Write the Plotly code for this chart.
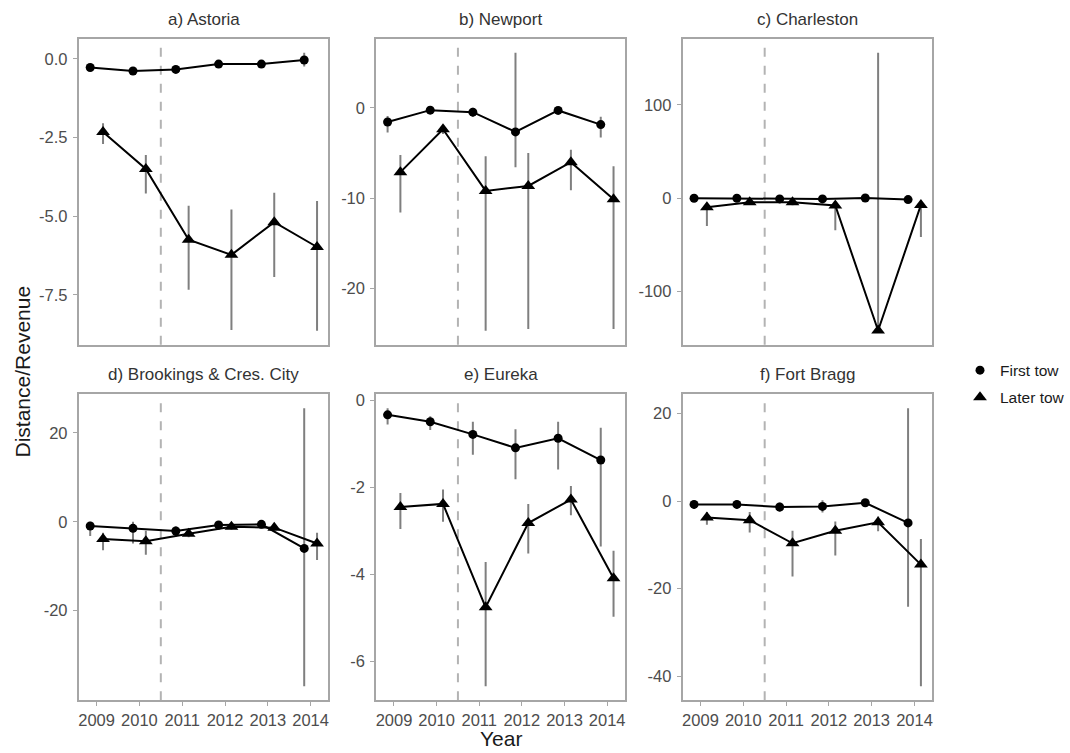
import plotly.graph_objects as go

# ---- data ---------------------------------------------------------------
years = [2009, 2010, 2011, 2012, 2013, 2014]
year_ticks = ["2009", "2010", "2011", "2012", "2013", "2014"]
policy_break = 2010.5

panel_titles = ["a) Astoria", "b) Newport", "c) Charleston",
                "d) Brookings & Cres. City", "e) Eureka", "f) Fort Bragg"]

# Astoria
astoria_first = [-0.28, -0.39, -0.34, -0.17, -0.17, -0.04]
astoria_first_lo = [-0.36, -0.47, -0.42, -0.24, -0.24, -0.25]
astoria_first_hi = [-0.20, -0.31, -0.26, -0.10, -0.10, 0.19]
astoria_later = [-2.33, -3.50, -5.75, -6.23, -5.19, -5.98]
astoria_later_lo = [-2.71, -4.28, -7.34, -8.62, -6.93, -8.64]
astoria_later_hi = [-2.05, -3.06, -4.67, -4.79, -4.26, -4.52]

# Newport
newport_first = [-1.57, -0.26, -0.48, -2.67, -0.29, -1.86]
newport_first_lo = [-2.74, -0.60, -1.00, -6.58, -0.60, -3.29]
newport_first_hi = [-0.91, 0.05, 0.00, 6.10, 0.00, -0.99]
newport_later = [-7.13, -2.38, -9.21, -8.66, -6.03, -10.12]
newport_later_lo = [-11.59, -2.90, -24.70, -24.50, -9.13, -24.50]
newport_later_hi = [-5.23, -1.90, -5.37, -5.01, -4.64, -6.47]

# Charleston
charleston_first = [0.0, 0.0, -0.7, -0.7, 0.3, -1.4]
charleston_first_lo = [-2.0, -2.0, -3.0, -3.0, -1.5, -3.5]
charleston_first_hi = [2.0, 2.0, 1.5, 1.5, 2.0, 1.0]
charleston_later = [-9.6, -4.3, -4.3, -7.8, -141.8, -7.1]
charleston_later_lo = [-29.8, -7.0, -7.5, -34.4, -142.0, -41.5]
charleston_later_hi = [-5.0, -2.0, -2.0, -3.0, 156.0, -3.0]

# Brookings & Crescent City
brookings_first = [-0.96, -1.48, -2.07, -0.74, -0.59, -6.0]
brookings_first_lo = [-3.2, -4.9, -3.3, -1.8, -1.4, -37.0]
brookings_first_hi = [0.0, 0.0, -1.0, 0.0, 0.0, 25.5]
brookings_later = [-3.9, -4.4, -2.7, -1.1, -1.33, -4.9]
brookings_later_lo = [-6.4, -7.4, -3.5, -1.8, -2.0, -8.6]
brookings_later_hi = [-2.5, -2.0, -1.9, -0.4, -0.7, -2.5]

# Eureka
eureka_first = [-0.33, -0.49, -0.78, -1.09, -0.87, -1.37]
eureka_first_lo = [-0.55, -0.68, -1.25, -1.81, -1.59, -3.36]
eureka_first_hi = [-0.18, -0.36, -0.49, -0.66, -0.49, -0.63]
eureka_later = [-2.45, -2.38, -4.76, -2.82, -2.28, -4.09]
eureka_later_lo = [-2.96, -2.79, -6.58, -3.52, -2.64, -4.98]
eureka_later_hi = [-2.13, -2.05, -3.72, -2.38, -1.97, -3.46]

# Fort Bragg
fortbragg_first = [-0.75, -0.75, -1.35, -1.2, -0.38, -4.97]
fortbragg_first_lo = [-1.8, -1.8, -2.5, -2.6, -1.2, -24.1]
fortbragg_first_hi = [0.2, 0.2, -0.3, 0.2, 0.5, 21.2]
fortbragg_later = [-3.76, -4.36, -9.63, -6.77, -4.82, -14.5]
fortbragg_later_lo = [-5.4, -7.15, -17.2, -12.4, -6.9, -42.3]
fortbragg_later_hi = [-2.5, -2.5, -6.77, -4.66, -3.5, -8.65]

y_ticks = [
    [0.0, -2.5, -5.0, -7.5],
    [0, -10, -20],
    [100, 0, -100],
    [20, 0, -20],
    [0, -2, -4, -6],
    [20, 0, -20, -40],
]
y_ticktext = [
    ["0.0", "-2.5", "-5.0", "-7.5"],
    ["0", "-10", "-20"],
    ["100", "0", "-100"],
    ["20", "0", "-20"],
    ["0", "-2", "-4", "-6"],
    ["20", "0", "-20", "-40"],
]

panels = [
    (astoria_first, astoria_first_lo, astoria_first_hi,
     astoria_later, astoria_later_lo, astoria_later_hi),
    (newport_first, newport_first_lo, newport_first_hi,
     newport_later, newport_later_lo, newport_later_hi),
    (charleston_first, charleston_first_lo, charleston_first_hi,
     charleston_later, charleston_later_lo, charleston_later_hi),
    (brookings_first, brookings_first_lo, brookings_first_hi,
     brookings_later, brookings_later_lo, brookings_later_hi),
    (eureka_first, eureka_first_lo, eureka_first_hi,
     eureka_later, eureka_later_lo, eureka_later_hi),
    (fortbragg_first, fortbragg_first_lo, fortbragg_first_hi,
     fortbragg_later, fortbragg_later_lo, fortbragg_later_hi),
]

# ---- styling / layout ---------------------------------------------------
W, H = 1070, 753
FONT = "Liberation Sans, Arial, sans-serif"
dodge = 0.15
x_domains = [(78 / W, 328 / W), (376 / W, 625 / W), (683 / W, 933 / W)]
y_domains = [(1 - 343 / H, 1 - 36 / H), (1 - 700 / H, 1 - 393 / H)]
BORDER = "#a6a6a6"
ERR = "#7f7f7f"
TICKFONT = dict(family=FONT, size=16.5, color="#4d4d4d")

fig = go.Figure()
layout_axes = {}
shapes = []
annotations = []

for i, (f, flo, fhi, l, llo, lhi) in enumerate(panels):
    row, col = divmod(i, 3)
    n = i + 1
    xa = "x" if n == 1 else f"x{n}"
    ya = "y" if n == 1 else f"y{n}"

    xf = [y - dodge for y in years]
    xl = [y + dodge for y in years]

    # interval bars, drawn underneath
    for xs, v, lo, hi in ((xf, f, flo, fhi), (xl, l, llo, lhi)):
        fig.add_trace(go.Scatter(
            x=xs, y=v, mode="markers", xaxis=xa, yaxis=ya,
            marker=dict(size=1, color="rgba(0,0,0,0)"),
            error_y=dict(type="data", symmetric=False,
                         array=[h - c for h, c in zip(hi, v)],
                         arrayminus=[c - q for c, q in zip(v, lo)],
                         color=ERR, thickness=2, width=0),
            showlegend=False, hoverinfo="skip"))

    fig.add_trace(go.Scatter(
        x=xf, y=f, mode="lines+markers", xaxis=xa, yaxis=ya,
        line=dict(color="black", width=2),
        marker=dict(symbol="circle", size=9, color="black"),
        showlegend=False))
    fig.add_trace(go.Scatter(
        x=xl, y=l, mode="lines+markers", xaxis=xa, yaxis=ya,
        line=dict(color="black", width=2),
        marker=dict(symbol="triangle-up", size=12, color="black"),
        showlegend=False))

    lo_all = min(flo + llo)
    hi_all = max(fhi + lhi)
    pad = 0.05 * (hi_all - lo_all)

    bottom = row == 1
    layout_axes["xaxis" if n == 1 else f"xaxis{n}"] = dict(
        domain=x_domains[col], anchor=ya,
        range=[min(years) - dodge - 0.265, max(years) + dodge + 0.265],
        tickvals=years, ticktext=year_ticks,
        showticklabels=bottom, ticks="outside" if bottom else "",
        ticklen=4, tickcolor=BORDER, tickwidth=1,
        tickfont=TICKFONT, showgrid=False, zeroline=False,
        showline=True, mirror=True, linecolor=BORDER, linewidth=2,
    )
    layout_axes["yaxis" if n == 1 else f"yaxis{n}"] = dict(
        domain=y_domains[row], anchor=xa,
        range=[lo_all - pad, hi_all + pad],
        tickvals=y_ticks[i], ticktext=y_ticktext[i],
        ticks="outside", ticklen=4, tickcolor=BORDER, tickwidth=1,
        ticklabelstandoff=2,
        tickfont=TICKFONT, showgrid=False, zeroline=False,
        showline=True, mirror=True, linecolor=BORDER, linewidth=2,
    )

    shapes.append(dict(
        type="line", xref=xa, yref=f"{ya} domain",
        x0=policy_break, x1=policy_break, y0=0, y1=1,
        line=dict(color="#b3b3b3", width=2, dash="dash"), layer="below"))

    annotations.append(dict(
        text=panel_titles[i], xref="paper", yref="paper",
        x=sum(x_domains[col]) / 2, y=y_domains[row][1] + 8 / H,
        xanchor="center", yanchor="bottom", showarrow=False,
        font=dict(family=FONT, size=17, color="#333333")))

# legend entries (points only)
fig.add_trace(go.Scatter(x=[None], y=[None], mode="markers", name="First tow",
                         marker=dict(symbol="circle", size=9, color="black"),
                         legendgroup="first"))
fig.add_trace(go.Scatter(x=[None], y=[None], mode="markers", name="Later tow",
                         marker=dict(symbol="triangle-up", size=12, color="black"),
                         legendgroup="later"))

annotations.append(dict(
    text="Distance/Revenue", xref="paper", yref="paper",
    x=22 / W, y=1 - 370 / H, textangle=-90, showarrow=False,
    xanchor="center", yanchor="middle",
    font=dict(family=FONT, size=21, color="#1a1a1a")))
annotations.append(dict(
    text="Year", xref="paper", yref="paper",
    x=sum(x_domains[1]) / 2, y=1 - 738 / H, showarrow=False,
    xanchor="center", yanchor="middle",
    font=dict(family=FONT, size=21, color="#1a1a1a")))

fig.update_layout(
    width=W, height=H,
    margin=dict(l=0, r=0, t=0, b=0),
    paper_bgcolor="white", plot_bgcolor="white",
    font=dict(family=FONT),
    shapes=shapes, annotations=annotations,
    legend=dict(x=961 / W, y=1 - 352 / H, xanchor="left", yanchor="top",
                traceorder="grouped", tracegroupgap=4,
                font=dict(family=FONT, size=15.5, color="#1a1a1a"),
                bgcolor="rgba(0,0,0,0)"),
    showlegend=True,
    **layout_axes,
)

fig.write_html("out.html")
